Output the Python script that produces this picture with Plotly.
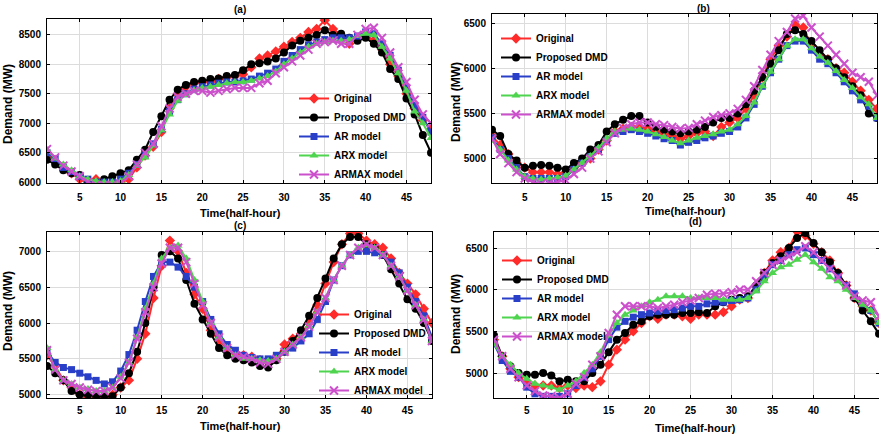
import plotly.graph_objects as go

t = list(range(1, 49))
series_names = ["Original", "Proposed DMD", "AR model", "ARX model", "ARMAX model"]

# Panel (a)
a_orig = [6500, 6350, 6250, 6150, 6050, 5980, 6050, 6000, 6000, 5990, 6050, 6250, 6450, 6600, 6850, 7250,
          7500, 7620, 7680, 7700, 7700, 7750, 7780, 7800, 7830, 7950, 8100, 8150, 8220, 8300, 8380, 8450,
          8550, 8600, 8750, 8600, 8500, 8350, 8450, 8500, 8400, 8250, 8000, 7800, 7500, 7250, 7050, 6900]
a_dmd = [6380, 6300, 6200, 6150, 6120, 6000, 5980, 6050, 6100, 6150, 6200, 6380, 6550, 6850, 7120, 7400,
         7570, 7650, 7700, 7720, 7750, 7760, 7800, 7820, 7900, 8000, 8020, 8050, 8100, 8200, 8320, 8400,
         8450, 8500, 8580, 8500, 8520, 8450, 8400, 8450, 8350, 8200, 7920, 7750, 7420, 7150, 6800, 6500]
a_ar = [6500, 6400, 6250, 6180, 6100, 6050, 6000, 6000, 6000, 6050, 6150, 6300, 6450, 6650, 6900, 7200,
        7400, 7500, 7580, 7620, 7650, 7680, 7700, 7700, 7720, 7750, 7800, 7850, 7920, 8050, 8150, 8250,
        8330, 8380, 8420, 8450, 8450, 8450, 8480, 8550, 8520, 8350, 8150, 7900, 7600, 7300, 7100, 6850]
a_arx = [6550, 6400, 6300, 6200, 6100, 6050, 6020, 6000, 6000, 6020, 6120, 6280, 6420, 6620, 6880, 7150,
         7380, 7480, 7560, 7600, 7620, 7650, 7680, 7700, 7700, 7720, 7760, 7800, 7880, 8000, 8100, 8200,
         8300, 8350, 8380, 8400, 8400, 8420, 8480, 8520, 8500, 8300, 8100, 7850, 7550, 7200, 7000, 6750]
a_armax = [6560, 6420, 6280, 6180, 6100, 6000, 5950, 5950, 5950, 5980, 6100, 6300, 6500, 6650, 6950, 7250,
           7450, 7500, 7550, 7550, 7520, 7550, 7580, 7600, 7600, 7600, 7680, 7720, 7850, 7950, 8050, 8150,
           8250, 8350, 8380, 8400, 8350, 8350, 8500, 8600, 8620, 8450, 8200, 7950, 7700, 7400, 7150, 7000]

# Panel (b)
b_orig = [5250, 5150, 5050, 4950, 4900, 4850, 4850, 4850, 4830, 4850, 4900, 4950, 5000, 5100, 5200, 5300,
          5330, 5350, 5350, 5330, 5300, 5280, 5250, 5220, 5250, 5280, 5300, 5250, 5350, 5400, 5450, 5550,
          5700, 5900, 6100, 6250, 6350, 6480, 6450, 6250, 6150, 6100, 6000, 5950, 5850, 5750, 5650, 5550]
b_dmd = [5320, 5250, 5050, 4980, 4900, 4920, 4930, 4920, 4900, 4880, 4950, 5000, 5100, 5150, 5300, 5380,
         5430, 5470, 5470, 5400, 5350, 5320, 5300, 5280, 5300, 5320, 5350, 5400, 5450, 5450, 5500, 5600,
         5750, 5900, 6050, 6200, 6380, 6420, 6380, 6300, 6200, 6100, 6000, 5900, 5800, 5700, 5500, 5450]
b_ar = [5230, 5100, 5000, 4900, 4800, 4780, 4780, 4780, 4780, 4800, 4880, 4950, 5020, 5100, 5200, 5280,
        5300, 5320, 5300, 5280, 5250, 5220, 5200, 5150, 5180, 5200, 5230, 5250, 5280, 5300, 5350, 5450,
        5600, 5800, 5950, 6100, 6250, 6300, 6300, 6200, 6100, 6050, 5950, 5850, 5750, 5650, 5580, 5450]
b_arx = [5200, 5100, 4980, 4880, 4800, 4780, 4770, 4780, 4790, 4810, 4880, 4950, 5030, 5120, 5220, 5300,
         5320, 5330, 5320, 5300, 5270, 5240, 5200, 5170, 5200, 5230, 5250, 5270, 5300, 5320, 5380, 5470,
         5620, 5800, 5960, 6100, 6250, 6320, 6320, 6220, 6130, 6060, 5970, 5870, 5780, 5680, 5600, 5450]
b_armax = [5220, 5050, 4950, 4850, 4780, 4740, 4720, 4730, 4740, 4760, 4830, 4900, 5000, 5080, 5180, 5280,
           5340, 5380, 5400, 5400, 5380, 5370, 5350, 5330, 5340, 5380, 5420, 5460, 5480, 5500, 5550, 5650,
           5800, 5980, 6150, 6300, 6400, 6550, 6580, 6450, 6350, 6250, 6150, 6050, 5950, 5900, 5850, 5700]

# Panel (c)
c_orig = [5550, 5400, 5200, 5100, 5000, 4960, 4950, 4960, 5000, 5100, 5200, 5500, 5850, 6350, 6800, 7150,
          7000, 6700, 6400, 6200, 5900, 5750, 5650, 5580, 5550, 5530, 5480, 5450, 5500, 5700, 5780, 5850,
          6000, 6250, 6550, 6850, 7100, 7250, 7250, 7150, 7100, 7050, 6900, 6700, 6550, 6400, 6200, 6000]
c_dmd = [5400, 5300, 5200, 5050, 5000, 5000, 4980, 4970, 4980, 5100, 5300, 5600, 6000, 6500, 6950, 7000,
         6900, 6600, 6270, 6050, 5850, 5650, 5550, 5500, 5480, 5450, 5400, 5380, 5480, 5600, 5750, 5900,
         6100, 6350, 6620, 6900, 7100, 7200, 7200, 7100, 7050, 6950, 6750, 6550, 6330, 6200, 6000, 5750]
c_ar = [5600, 5450, 5380, 5350, 5300, 5250, 5200, 5150, 5180, 5330, 5560, 5900, 6300, 6650, 6850, 6850,
        6780, 6650, 6500, 6300, 6050, 5850, 5700, 5620, 5550, 5520, 5500, 5500, 5550, 5600, 5650, 5750,
        5850, 6050, 6300, 6600, 6800, 6950, 7000, 7000, 6980, 6950, 6850, 6700, 6500, 6300, 6100, 5800]
c_arx = [5650, 5350, 5200, 5150, 5100, 5080, 5050, 5050, 5100, 5250, 5450, 5800, 6200, 6550, 6900, 7050,
         7080, 6900, 6600, 6300, 6000, 5800, 5650, 5550, 5500, 5500, 5480, 5470, 5500, 5600, 5700, 5800,
         5950, 6150, 6350, 6600, 6800, 6950, 7050, 7080, 7050, 6950, 6800, 6650, 6450, 6250, 6050, 5750]
c_armax = [5620, 5350, 5200, 5150, 5100, 5070, 5050, 5050, 5100, 5230, 5450, 5780, 6150, 6500, 6830, 7050,
           7050, 6850, 6550, 6250, 6000, 5800, 5650, 5550, 5530, 5500, 5450, 5430, 5500, 5600, 5700, 5800,
           5950, 6150, 6350, 6600, 6800, 6950, 7050, 7100, 7050, 6950, 6800, 6650, 6450, 6250, 6050, 5750]

# Panel (d)
d_orig = [5400, 5200, 5050, 4950, 4900, 4850, 4850, 4850, 4820, 4850, 4820, 4850, 4830, 4900, 5100, 5280,
          5400, 5500, 5600, 5680, 5650, 5700, 5700, 5680, 5650, 5700, 5700, 5700, 5730, 5800, 5880, 5900,
          6050, 6200, 6350, 6450, 6500, 6700, 6650, 6550, 6450, 6350, 6200, 6050, 5900, 5800, 5750, 5600]
d_dmd = [5450, 5200, 5080, 5000, 4980, 4980, 5000, 4970, 4900, 4920, 4900, 4900, 5000, 5100, 5250, 5400,
         5480, 5580, 5620, 5680, 5700, 5700, 5700, 5720, 5720, 5730, 5720, 5800, 5850, 5880, 5900, 5920,
         6050, 6200, 6320, 6400, 6500, 6620, 6680, 6560, 6450, 6330, 6200, 6050, 5900, 5750, 5620, 5470]
d_ar = [5350, 5150, 5020, 4950, 4830, 4750, 4720, 4720, 4720, 4750, 4850, 4950, 5050, 5200, 5400, 5550,
        5620, 5670, 5700, 5720, 5740, 5750, 5760, 5780, 5800, 5800, 5830, 5850, 5850, 5870, 5880, 5900,
        6000, 6150, 6300, 6350, 6420, 6480, 6500, 6420, 6350, 6250, 6150, 6050, 5950, 5830, 5750, 5600]
d_arx = [5350, 5200, 5100, 5000, 4930, 4870, 4850, 4830, 4800, 4850, 4900, 5000, 5100, 5250, 5450, 5600,
         5700, 5750, 5800, 5850, 5880, 5920, 5920, 5920, 5900, 5900, 5900, 5900, 5880, 5880, 5880, 5900,
         5980, 6100, 6200, 6270, 6300, 6360, 6420, 6330, 6250, 6150, 6100, 6000, 5900, 5820, 5750, 5600]
d_armax = [5400, 5200, 5050, 4950, 4850, 4780, 4730, 4720, 4700, 4750, 4870, 4950, 5100, 5200, 5480, 5700,
           5800, 5800, 5800, 5800, 5780, 5800, 5820, 5850, 5870, 5900, 5940, 5950, 5950, 5970, 6000, 6000,
           6100, 6200, 6300, 6350, 6400, 6450, 6520, 6450, 6350, 6250, 6150, 6050, 5920, 5870, 5850, 5680]

panels = [
    ("(a)", [a_orig, a_dmd, a_ar, a_arx, a_armax], [5985, 8770], [6000, 6500, 7000, 7500, 8000, 8500]),
    ("(b)", [b_orig, b_dmd, b_ar, b_arx, b_armax], [4730, 6600], [5000, 5500, 6000, 6500]),
    ("(c)", [c_orig, c_dmd, c_ar, c_arx, c_armax], [4954, 7270], [5000, 5500, 6000, 6500, 7000]),
    ("(d)", [d_orig, d_dmd, d_ar, d_arx, d_armax], [4700, 6692], [5000, 5500, 6000, 6500]),
]
x_ticks = [5, 10, 15, 20, 25, 30, 35, 40, 45]

colors = ["#ff2a2a", "#000000", "#2a3fc8", "#4fd44f", "#cc4fcc"]
symbols = ["diamond", "circle", "square", "triangle-up", "x-thin-open"]
msizes = [8, 8, 7, 8, 8]

W, H = 879, 438
# plot areas in pixels: (left, right, top, bottom)
areas = [(47, 431, 19, 183), (492, 877, 14, 183), (47, 432, 232, 398), (494, 879, 232, 398)]
legend_pos = [(294, 84), (496, 24), (314, 300), (497, 246)]
title_pos = [(240, 10), (703, 9), (240, 225), (695, 221)]
xtitle_pos = [(240, 213), (685, 211), (240, 426), (695, 428)]
ytitle_pos = [(8, 104), (456, 102), (8, 311), (456, 314)]
xlabel_standoff = [5, 5, 3, 3]

FONT = "Liberation Sans"
fig = go.Figure()
layout = dict(width=W, height=H, margin=dict(l=0, r=0, t=0, b=0),
              paper_bgcolor="white", plot_bgcolor="white", showlegend=True)
annotations = []

for i, (ptitle, vals, yr, yt) in enumerate(panels):
    k = "" if i == 0 else str(i + 1)
    leg = "legend" + k
    for j in range(5):
        fig.add_trace(go.Scatter(
            x=t, y=vals[j], name=series_names[j], mode="lines+markers",
            xaxis="x" + k, yaxis="y" + k, legend=leg,
            line=dict(color=colors[j], width=2),
            marker=dict(symbol=symbols[j], size=msizes[j], color=colors[j],
                        line=dict(color=colors[j], width=2 if j == 4 else 0)),
        ))
    l, r, tp, b = areas[i]
    layout["xaxis" + k] = dict(domain=[l / W, r / W], range=[1, 48], anchor="y" + k,
                               tickvals=x_ticks, ticks="inside", ticklen=3, tickcolor="black",
                               showline=True, linecolor="black", linewidth=1, mirror="ticks",
                               showgrid=True, gridcolor="#dcdcdc", gridwidth=1, zeroline=False,
                               automargin=False, ticklabelstandoff=xlabel_standoff[i],
                               tickfont=dict(family=FONT, size=10, color="black", weight="bold"))
    layout["yaxis" + k] = dict(domain=[1 - b / H, 1 - tp / H], range=yr, anchor="x" + k,
                               tickvals=yt, ticks="inside", ticklen=3, tickcolor="black",
                               showline=True, linecolor="black", linewidth=1, mirror="ticks",
                               showgrid=True, gridcolor="#dcdcdc", gridwidth=1, zeroline=False,
                               automargin=False, ticklabelstandoff=3,
                               tickfont=dict(family=FONT, size=10, color="black", weight="bold"))
    lx, ly = legend_pos[i]
    layout[leg] = dict(x=lx / W, y=1 - ly / H, xanchor="left", yanchor="top",
                       bgcolor="rgba(255,255,255,0)", borderwidth=0, itemwidth=30,
                       font=dict(family=FONT, size=10, color="black", weight="bold"),
                       tracegroupgap=0)
    tx, ty = title_pos[i]
    annotations.append(dict(text=ptitle, x=tx / W, y=1 - ty / H, xref="paper", yref="paper",
                            showarrow=False, xanchor="center", yanchor="middle",
                            font=dict(family=FONT, size=10, color="black", weight="bold")))
    xx, xy = xtitle_pos[i]
    annotations.append(dict(text="Time(half-hour)", x=xx / W, y=1 - xy / H, xref="paper", yref="paper",
                            showarrow=False, xanchor="center", yanchor="middle",
                            font=dict(family=FONT, size=11, color="black", weight="bold")))
    yx, yy = ytitle_pos[i]
    annotations.append(dict(text="Demand (MW)", x=yx / W, y=1 - yy / H, xref="paper", yref="paper",
                            showarrow=False, xanchor="center", yanchor="middle", textangle=-90,
                            font=dict(family=FONT, size=12, color="black", weight="bold")))

layout["annotations"] = annotations
fig.update_layout(**layout)
fig.write_html("out.html", config={"displayModeBar": False},
               post_script="document.body.style.margin='0';document.body.style.overflow='hidden';")
